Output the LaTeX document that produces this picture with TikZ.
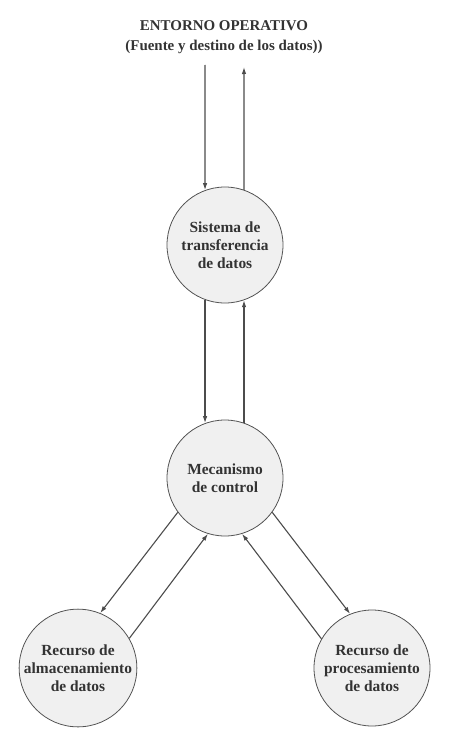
\documentclass[tikz,border=0pt]{standalone}
\usepackage{fontspec}
\setmainfont{Liberation Serif}
\usetikzlibrary{arrows.meta}

\tikzset{
  recurso/.style={circle, draw=gray!65!black, fill=gray!12, line width=0.8bp,
    minimum size=116bp, inner sep=0pt, align=center, text=black!80,
    font=\bfseries\fontsize{15.5}{18}\selectfont},
  flujo/.style={draw=gray!60!black, line width=1.1bp, -{Latex[length=7bp,width=4.5bp]}}
}

\begin{document}
\begin{tikzpicture}[x=1bp, y=-1bp]
            \useasboundingbox (0, 0) rectangle (469, 740);

            \node[align=center, text=black!80, font=\bfseries\fontsize{15}{20}\selectfont] (entorno) at (224, 37) {ENTORNO OPERATIVO\\(Fuente y destino de los datos))};

            \node[recurso] (sistema) at (225, 245) {Sistema de\\transferencia\\de datos};
            \node[recurso] (mecanismo) at (225, 478) {Mecanismo\\de control};
            \node[recurso] (almacen) at (78, 668) {Recurso de\\almacenamiento\\de datos};
            \node[recurso] (proceso) at (372, 668) {Recurso de\\procesamiento\\de datos};

            \coordinate (fuente) at (205, 65);
            \coordinate (destino) at (244, 67);

            % entorno <-> sistema
            \draw[flujo] (fuente) -- (sistema.110);
            \draw[flujo] (sistema.71) -- (destino);

            % sistema <-> mecanismo
            \draw[flujo] (sistema.250) -- (mecanismo.110);
            \draw[flujo] (mecanismo.71) -- (sistema.289);

            % mecanismo <-> recursos
            \draw[flujo] (mecanismo.216) -- (almacen.68);
            \draw[flujo] (almacen.30) -- (mecanismo.253);
            \draw[flujo] (proceso.150) -- (mecanismo.287);
            \draw[flujo] (mecanismo.324) -- (proceso.112);
        \end{tikzpicture}
\end{document}
